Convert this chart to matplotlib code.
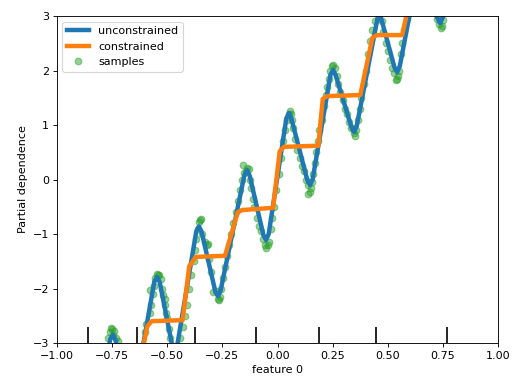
import numpy as np
import matplotlib.pyplot as plt

# Partial dependence curves
unc_x = [-0.86, -0.746 - 0.012, -0.746, -0.746 + 0.012, -0.66, -0.558, -0.546, -0.534,
         -0.465, -0.368, -0.356, -0.344, -0.282, -0.27, -0.258, -0.15, -0.138, -0.126,
         -0.064, -0.052, -0.04, 0.04, 0.052, 0.064, 0.135, 0.147, 0.159, 0.24, 0.252, 0.264,
         0.335, 0.347, 0.359, 0.46, 0.53, 0.542, 0.554, 0.65, 0.725, 0.737, 0.749, 0.85]
unc_y = [-5.2, -2.93, -2.85, -2.95, -4.2, -1.87, -1.79, -1.88,
         -3.3, -0.95, -0.86, -0.96, -2.05, -2.14, -2.04, 0.08, 0.17, 0.07,
         -1.02, -1.11, -1.0, 1.12, 1.22, 1.1, -0.01, -0.10, 0.0, 1.92, 2.01, 1.91,
         0.96, 0.87, 0.98, 3.1, 2.06, 1.97, 2.08, 4.1, 2.96, 2.87, 2.98, 4.1]

con_x = [-0.62, -0.59, -0.57, -0.43, -0.40, -0.37, -0.238, -0.18, -0.16, -0.02,
         0.01, 0.03, 0.185, 0.205, 0.225, 0.375, 0.43, 0.45, 0.565, 0.60]
con_y = [-3.3, -2.69, -2.60, -2.58, -1.59, -1.42, -1.40, -0.60, -0.56, -0.52,
         0.52, 0.60, 0.62, 1.48, 1.53, 1.55, 2.60, 2.65, 2.65, 3.3]

# feature deciles (rug marks)
deciles = [-0.859, -0.637, -0.374, -0.098, 0.188, 0.447, 0.769]

# samples
samp_x = [-0.75, -0.76, -0.74, -0.77, -0.73, -0.755, -0.725, -0.745,
          -0.60, -0.595, -0.58, -0.578, -0.575, -0.565, -0.56, -0.555, -0.545, -0.535, -0.53, -0.54,
          -0.525, -0.52, -0.51, -0.505, -0.50, -0.49, -0.485, -0.51,
          -0.44, -0.43, -0.42, -0.41, -0.40, -0.39, -0.38, -0.375, -0.37, -0.36, -0.35, -0.345, -0.355,
          -0.34, -0.33, -0.32, -0.315, -0.31, -0.30, -0.293, -0.28, -0.27, -0.265, -0.26,
          -0.255, -0.245, -0.24, -0.23, -0.22, -0.21, -0.20, -0.19, -0.18, -0.17, -0.16, -0.156, -0.15, -0.14, -0.13, -0.145,
          -0.125, -0.12, -0.11, -0.105, -0.095, -0.085, -0.075, -0.065, -0.055, -0.05, -0.045, -0.04,
          -0.03, -0.025, -0.015, -0.005, 0.005, 0.015, 0.025, 0.035, 0.045, 0.05, 0.055, 0.06, 0.065,
          0.07, 0.08, 0.09, 0.10, 0.11, 0.12, 0.13, 0.138, 0.14, 0.145, 0.15, 0.155,
          0.16, 0.17, 0.175, 0.185, 0.19, 0.20, 0.21, 0.22, 0.225, 0.235, 0.24, 0.25, 0.26, 0.245,
          0.27, 0.275, 0.285, 0.295, 0.305, 0.315, 0.325, 0.335, 0.345, 0.35, 0.355, 0.34,
          0.365, 0.375, 0.38, 0.39, 0.40, 0.41, 0.42, 0.43, 0.44,
          0.475, 0.48, 0.49, 0.50, 0.51, 0.52, 0.53, 0.54, 0.545, 0.55, 0.535,
          0.56, 0.565, 0.575, 0.585,
          0.725, 0.73, 0.74, 0.745, 0.75]
samp_y = [-2.75, -2.8, -2.78, -2.9, -2.9, -2.72, -2.97, -2.85,
          -2.8, -2.65, -2.45, -2.03, -2.3, -2.1, -1.95, -1.8, -1.73, -1.75, -1.82, -1.76,
          -2.0, -2.12, -2.3, -2.45, -2.55, -2.75, -2.9, -2.2,
          -2.9, -2.7, -2.5, -2.3, -2.0, -1.75, -1.5, -1.3, -1.1, -0.9, -0.75, -0.72, -0.78,
          -1.0, -1.15, -1.2, -1.18, -1.45, -1.7, -2.06, -2.05, -2.2, -2.22, -2.15,
          -2.0, -1.8, -1.6, -1.4, -1.2, -1.0, -0.8, -0.6, -0.4, -0.2, 0.0, 0.27, 0.12, 0.22, 0.2, 0.15,
          0.0, -0.15, -0.35, -0.5, -0.7, -0.85, -0.95, -1.1, -1.2, -1.25, -1.2, -1.15,
          -0.9, -0.7, -0.5, -0.2, 0.1, 0.4, 0.7, 0.9, 1.1, 1.2, 1.25, 1.2, 1.1,
          0.95, 0.75, 0.55, 0.4, 0.25, 0.15, 0.0, -0.27, -0.1, -0.22, -0.15, -0.05,
          0.1, 0.3, 0.5, 0.7, 0.9, 1.1, 1.35, 1.55, 1.7, 1.85, 2.0, 2.1, 2.05, 2.08,
          1.9, 1.75, 1.6, 1.45, 1.3, 1.2, 1.05, 0.95, 0.85, 0.8, 0.9, 0.95,
          1.1, 1.3, 1.5, 1.75, 2.0, 2.3, 2.55, 2.75, 2.9,
          2.9, 2.7, 2.5, 2.35, 2.2, 2.05, 1.95, 1.85, 1.9, 2.0, 1.82,
          2.3, 2.5, 2.75, 2.95,
          2.95, 2.85, 2.78, 2.82, 2.92]

fig = plt.figure(figsize=(6.4, 4.725), dpi=80)
ax = fig.add_axes([0.111, 0.0926, 0.862, 0.865])

ax.plot(unc_x, unc_y, linewidth=4, color="tab:blue", label="unconstrained")
ax.plot(con_x, con_y, linewidth=4, color="tab:orange", label="constrained")
ax.plot(samp_x, samp_y, "o", alpha=0.5, color="tab:green", zorder=-1, label="samples")

trans = ax.get_xaxis_transform()
ax.vlines(deciles, 0, 0.05, transform=trans, color="k", linewidth=1.5)

ax.set_xlim(-1, 1)
ax.set_ylim(-3, 3)
ax.set_xticks(np.arange(-1, 1.01, 0.25))
ax.set_xlabel("feature 0")
ax.set_ylabel("Partial dependence")
ax.legend(loc="upper left")

fig.savefig("out.png", dpi=80)
